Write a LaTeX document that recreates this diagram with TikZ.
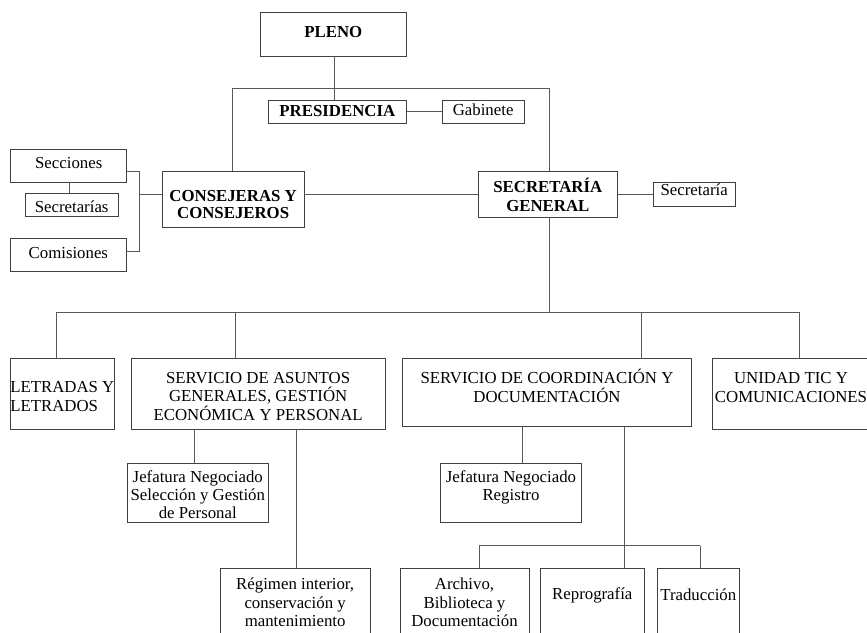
\documentclass[tikz,border=0pt]{standalone}
\usepackage{fontspec}
\setmainfont{Liberation Serif}
\tikzset{
  obx/.style={draw=black!75, line width=0.9pt, inner sep=0pt, outer sep=0pt, anchor=north west, fill=white},
  ln/.style={draw=black!65, line width=0.9pt}
}
\newcommand\obox[8]{%
  \node[obx] (#1) at (#2,#3) {\parbox[b][\dimexpr#5pt-#3pt\relax][t]{\dimexpr#4pt-#2pt\relax}{\fontsize{16.8}{19}\selectfont#7\rule{0pt}{#6pt}#8}};}
\begin{document}
\begin{tikzpicture}[x=1pt,y=-1pt]
\useasboundingbox (0,0) rectangle (867,632);
\fill[white] (0,0) rectangle (867,632);
\clip (0,0) rectangle (867,632);
% boxes
\obox{pleno}{260}{12.7}{406.7}{56}{24.5}{\centering\bfseries}{PLENO}
\obox{pres}{268}{100}{406.7}{123.7}{16.2}{\centering\bfseries}{PRESIDENCIA}
\obox{gab}{442.3}{100}{524}{123.7}{15.5}{\centering}{Gabinete}
\obox{cons}{162.3}{171}{304}{227.7}{30.2}{\centering\bfseries\setlength\baselineskip{17.6pt}}{CONSEJERAS Y\\CONSEJEROS}
\obox{sg}{478.3}{171}{617.3}{217.3}{21.2}{\centering\bfseries}{SECRETARÍA\\GENERAL}
\obox{secs}{653.3}{182.3}{735}{206}{13.2}{\centering}{Secretaría}
\obox{secc}{10.7}{149}{126.7}{182.3}{19.8}{\centering}{Secciones}
\obox{secr}{25.3}{193.3}{118}{216.3}{18.9}{\centering}{Secretarías}
\obox{com}{10.7}{238}{126}{271.3}{20.2}{\centering}{Comisiones}
\obox{let}{10.3}{358.7}{114.7}{429.3}{33.5}{\raggedright}{LETRADAS Y\\LETRADOS}
\obox{sa}{131}{358.7}{385.3}{429.3}{24.5}{\centering\setlength\baselineskip{18.7pt}}{SERVICIO DE ASUNTOS\\GENERALES, GESTIÓN\\ECONÓMICA Y PERSONAL}
\obox{sc}{402.3}{358.7}{691.7}{426.7}{24.5}{\centering}{SERVICIO DE COORDINACIÓN Y\\DOCUMENTACIÓN}
\obox{ut}{712.7}{358.7}{869.3}{429.3}{24.5}{\centering}{UNIDAD TIC Y\\COMUNICACIONES}
\obox{jns}{127.3}{463.3}{268.3}{522}{18.9}{\centering\setlength\baselineskip{18.3pt}}{Jefatura Negociado\\Selección y Gestión\\de Personal}
\obox{jnr}{440.7}{463.3}{581.3}{522}{18.9}{\centering\setlength\baselineskip{18.3pt}}{Jefatura Negociado\\Registro}
\obox{reg}{220}{568.3}{370.3}{637}{21.2}{\centering\setlength\baselineskip{18.6pt}}{Régimen interior,\\conservación y\\mantenimiento}
\obox{arch}{400}{568.3}{529}{637}{21.2}{\centering\setlength\baselineskip{18.6pt}}{Archivo,\\Biblioteca y\\Documentación}
\obox{rep}{540.3}{568.3}{644.3}{637}{31.5}{\centering}{Reprografía}
\obox{trad}{657.3}{568.3}{739.3}{637}{32}{\centering}{Traducción}
% connectors
\coordinate (tl) at (232.3,88.7);
\coordinate (tr) at (549,88.7);
\draw[ln] (pleno.south -| 334.3,0) -- (pres.north -| 334.3,0);
\draw[ln] (cons.north -| tl) -- (tl) -- (tr) -- (sg.north -| tr);
\draw[ln] (pres.east) -- (gab.west);
\draw[ln] (cons.east |- 0,194.3) -- (sg.west |- 0,194.3);
\draw[ln] (sg.east) -- (secs.west);
\coordinate (b1) at (139.3,171);
\coordinate (b2) at (139.3,251.7);
\draw[ln] (secc.east |- b1) -- (b1) -- (b2) -- (com.east |- b2);
\draw[ln] (b1 |- 0,194.3) -- (cons.west |- 0,194.3);
\draw[ln] (secc.south -| 69,0) -- (secr.north -| 69,0);
\coordinate (busL) at (56.7,312.3);
\coordinate (busR) at (799.3,312.3);
\draw[ln] (sg.south -| tr) -- (tr |- busL);
\draw[ln] (busL) -- (busR);
\draw[ln] (busL) -- (let.north -| busL);
\draw[ln] (busL -| 235.7,0) -- (sa.north -| 235.7,0);
\draw[ln] (busL -| 641.3,0) -- (sc.north -| 641.3,0);
\draw[ln] (busR) -- (ut.north -| busR);
\draw[ln] (sa.south -| 194.7,0) -- (jns.north -| 194.7,0);
\draw[ln] (sa.south -| 296.7,0) -- (reg.north -| 296.7,0);
\draw[ln] (sc.south -| 522,0) -- (jnr.north -| 522,0);
\draw[ln] (sc.south -| 624,0) -- (rep.north -| 624,0);
\coordinate (subL) at (479.3,545.7);
\coordinate (subR) at (700,545.7);
\draw[ln] (subL) -- (subR);
\draw[ln] (subL) -- (arch.north -| subL);
\draw[ln] (subR) -- (trad.north -| subR);
\end{tikzpicture}
\end{document}
